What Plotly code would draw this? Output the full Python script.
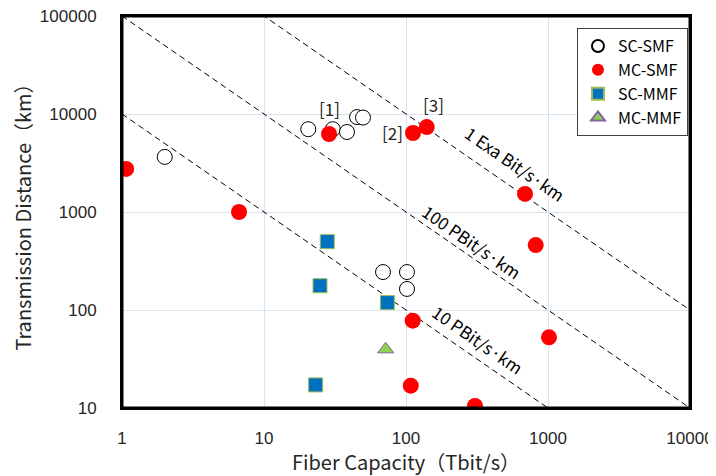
import plotly.graph_objects as go
import numpy as np

# ---- data ----
sc_smf_x = [2.0, 20.5, 30.5, 38.4, 45.2, 49.8, 68.9, 101.6, 101.6]
sc_smf_y = [3650, 7000, 7000, 6550, 9300, 9200, 244, 244, 164]

mc_smf_x = [1.07, 6.67, 28.7, 112, 140, 689, 819, 1016, 111.5, 108, 306]
mc_smf_y = [2750, 1000, 6250, 6400, 7360, 1530, 460, 52.6, 77.8, 16.9, 10.5]

sc_mmf_x = [27.9, 24.8, 73.9, 23.1]
sc_mmf_y = [498, 177, 119, 17.2]

mc_mmf_x = [71.9]
mc_mmf_y = [39.7]

# constant capacity-distance products (Tbit/s * km)
line_products = [1e4, 1e5, 1e6]
line_labels = ["10 PBit/s\u00b7km", "100 PBit/s\u00b7km", "1 Exa Bit/s\u00b7km"]
line_label_x = [10**2.507, 10**2.465, 10**2.768]
line_label_y = [10**1.694, 10**2.704, 10**3.49]

ref_labels = ["[1]", "[2]", "[3]"]
ref_label_x = [28.7, 80.0, 157.0]
ref_label_y = [11500, 6550, 12650]

x_tickvals = [1, 10, 100, 1000, 10000]
x_ticktext = ["1", "10", "100", "1000", "10000"]
y_tickvals = [10, 100, 1000, 10000, 100000]
y_ticktext = ["10", "100", "1000", "10000", "100000"]

x_range = [1, 10000]
y_range = [10, 100000]

fig = go.Figure()

xs = np.logspace(0, 4, 200)
for p in line_products:
    ys = p / xs
    fig.add_trace(go.Scatter(x=xs, y=ys, mode="lines",
                             line=dict(color="black", width=1, dash="6px,4px"),
                             showlegend=False, hoverinfo="skip"))

fig.add_trace(go.Scatter(x=sc_smf_x, y=sc_smf_y, mode="markers", name="SC-SMF",
                         marker=dict(symbol="circle", size=15, color="white",
                                     line=dict(color="black", width=1))))
fig.add_trace(go.Scatter(x=mc_smf_x, y=mc_smf_y, mode="markers", name="MC-SMF",
                         marker=dict(symbol="circle", size=16, color="#FF0000",
                                     line=dict(color="#FF0000", width=0))))
fig.add_trace(go.Scatter(x=sc_mmf_x, y=sc_mmf_y, mode="markers", name="SC-MMF",
                         marker=dict(symbol="square", size=14, color="#0070C0",
                                     line=dict(color="#9BBB59", width=1))))
fig.add_trace(go.Scatter(x=mc_mmf_x, y=mc_mmf_y, mode="markers", name="MC-MMF",
                         marker=dict(symbol="triangle-up", size=14, color="#92D050",
                                     line=dict(color="#8064A2", width=1))))

label_font = dict(family="Noto Sans CJK JP, Noto Sans, sans-serif", size=17, color="black")
for t, x, y in zip(line_labels, line_label_x, line_label_y):
    fig.add_annotation(x=np.log10(x), y=np.log10(y), text=t, showarrow=False,
                       textangle=34.6, font=label_font, xref="x", yref="y")
for t, x, y in zip(ref_labels, ref_label_x, ref_label_y):
    fig.add_annotation(x=np.log10(x), y=np.log10(y), text=t, showarrow=False,
                       font=dict(family="Noto Sans CJK JP, sans-serif", size=17, color="#262626"),
                       xref="x", yref="y")

# plot frame
fig.add_shape(type="rect", xref="paper", yref="paper", x0=0, y0=0, x1=1, y1=1,
              line=dict(color="#000000", width=3), layer="above")

axis_common = dict(type="log", showgrid=True, gridcolor="#D9E4F1", gridwidth=1,
                   showline=True, linecolor="#000000", linewidth=2, mirror="all",
                   ticks="", zeroline=False, automargin=False, ticklabeloverflow="allow",
                   tickfont=dict(family="Liberation Sans, Arial, sans-serif", size=17, color="#262626"))

fig.update_xaxes(range=[np.log10(x_range[0]), np.log10(x_range[1])],
                 tickvals=x_tickvals, ticktext=x_ticktext,
                 title=dict(text="Fiber Capacity\uff08Tbit/s\uff09", standoff=25,
                            font=dict(family="Noto Sans CJK JP, sans-serif", size=20, color="#262626")),
                 ticklabelstandoff=14, **axis_common)
fig.update_yaxes(range=[np.log10(y_range[0]), np.log10(y_range[1])],
                 tickvals=y_tickvals, ticktext=y_ticktext,
                 title=dict(text="Transmission Distance\uff08km\uff09", standoff=16,
                            font=dict(family="Noto Sans CJK JP, sans-serif", size=20, color="#262626")),
                 ticklabelstandoff=20, **axis_common)

fig.update_layout(
    width=708, height=468,
    margin=dict(l=114, r=26, t=8, b=68, autoexpand=False),
    plot_bgcolor="white", paper_bgcolor="white",
    legend=dict(x=0.801, y=0.969, xanchor="left", yanchor="top",
                bgcolor="white", bordercolor="#404040", borderwidth=1,
                font=dict(family="Noto Sans CJK JP, sans-serif", size=16, color="black"),
                itemsizing="constant", tracegroupgap=0),
    showlegend=True,
)

fig.write_html("out.html")
